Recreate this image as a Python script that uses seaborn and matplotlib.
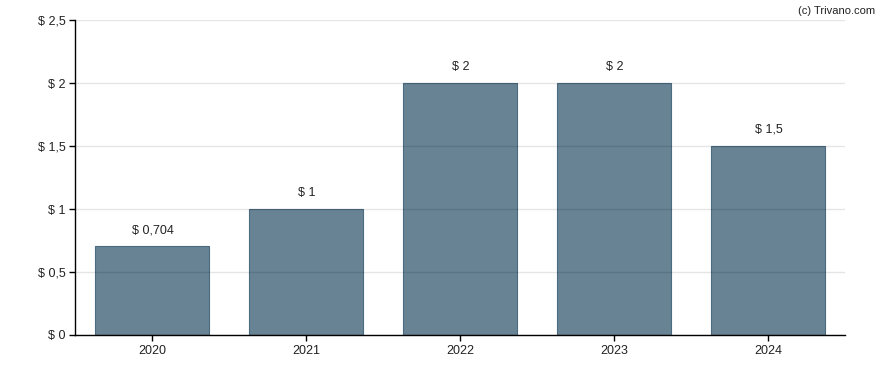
import pandas as pd
import matplotlib.pyplot as plt
import seaborn as sns

years = ["2020", "2021", "2022", "2023", "2024"]
values = [0.704, 1, 2, 2, 1.5]
value_labels = ["$ 0,704", "$ 1", "$ 2", "$ 2", "$ 1,5"]
y_ticks = [0, 0.5, 1, 1.5, 2, 2.5]
y_tick_labels = ["$ 0", "$ 0,5", "$ 1", "$ 1,5", "$ 2", "$ 2,5"]

sns.set_theme(style="white")
plt.rcParams['font.family'] = ['Liberation Sans', 'DejaVu Sans']

df = pd.DataFrame({"year": years, "value": values})

fig = plt.figure(figsize=(8.88, 3.7), dpi=100)
ax = fig.add_axes([0.085, 0.0946, 0.867, 0.85])

sns.barplot(data=df, x="year", y="value", color="#678394", saturation=1,
            width=0.74, edgecolor="#4b6b80", linewidth=0.8, ax=ax)

ax.set_ylim(0, 2.5)
ax.set_xlim(-0.5, 4.5)
ax.set_yticks(y_ticks)
ax.set_yticklabels(y_tick_labels)
ax.set_xlabel("")
ax.set_ylabel("")
# grid drawn over the bars, slightly darkening them
ax.set_axisbelow(False)
ax.grid(axis="y", color="black", alpha=0.1, linewidth=1)

for s in ["top", "right"]:
    ax.spines[s].set_visible(False)
for s in ["left", "bottom"]:
    ax.spines[s].set_color("black")
    ax.spines[s].set_linewidth(1)
    ax.spines[s].set_zorder(5)
ax.tick_params(axis="both", which="both", length=4, width=1, color="black",
               labelsize=9, labelcolor="#222222", direction="out",
               left=True, bottom=True, pad=3)

for i, (v, lab) in enumerate(zip(values, value_labels)):
    ax.annotate(lab, (i, v), xytext=(0, 7.5), textcoords="offset points",
                ha="center", va="bottom", fontsize=9, color="#222222")

fig.text(0.985, 0.985, "(c) Trivano.com", ha="right", va="top",
         fontsize=8, color="#222222")

fig.savefig("out.png", dpi=100)
